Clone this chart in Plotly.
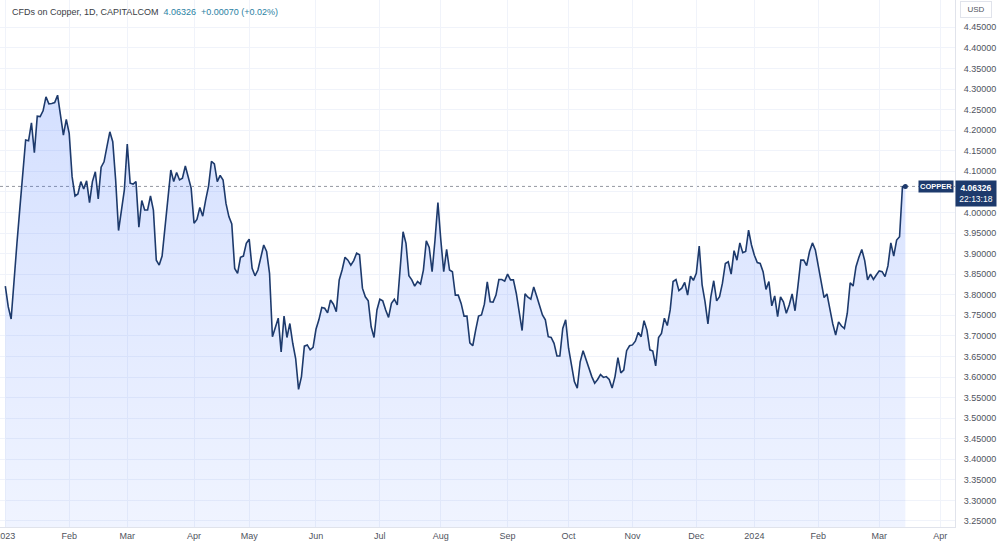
import pandas as pd
import plotly.graph_objects as go

# ---- data (daily closes) ----
values = [
    3.821, 3.771, 3.741, 3.840, 3.925, 4.010, 4.100, 4.176, 4.174, 4.218,
    4.145, 4.234, 4.233, 4.247, 4.281, 4.264, 4.265, 4.267, 4.285, 4.241,
    4.188, 4.226, 4.192, 4.087, 4.040, 4.045, 4.075, 4.057, 4.077, 4.024,
    4.075, 4.099, 4.033, 4.110, 4.123, 4.160, 4.196, 4.172, 4.079, 3.956,
    4.005, 4.055, 4.166, 4.071, 4.069, 4.075, 3.964, 4.029, 4.006, 4.006,
    4.040, 4.006,
    3.884, 3.872, 3.894, 3.959, 4.030, 4.103, 4.075, 4.097, 4.079, 4.083,
    4.113, 4.087, 4.059, 3.974, 3.983, 4.012, 3.991, 4.030, 4.064, 4.124,
    4.118, 4.075, 4.090, 4.079, 4.022, 3.990, 3.972, 3.864, 3.852, 3.891,
    3.894, 3.925,
    3.935, 3.864, 3.846, 3.860, 3.892, 3.921, 3.905, 3.852, 3.698, 3.722,
    3.743, 3.661, 3.748, 3.696, 3.730, 3.682, 3.645, 3.570, 3.601, 3.675,
    3.678, 3.666, 3.672, 3.716, 3.739, 3.769, 3.767, 3.756, 3.787, 3.777,
    3.759, 3.836, 3.860, 3.891, 3.884, 3.872, 3.883, 3.901, 3.897, 3.816,
    3.795, 3.785, 3.722, 3.696, 3.763, 3.789, 3.785, 3.763, 3.745, 3.779,
    3.789, 3.775, 3.860, 3.953, 3.925, 3.846, 3.836, 3.821, 3.832, 3.826,
    3.860, 3.931, 3.915, 3.856, 3.933, 4.024, 3.933, 3.856, 3.910, 3.860,
    3.856, 3.799, 3.799, 3.779, 3.748, 3.748, 3.683, 3.676, 3.714, 3.748,
    3.751, 3.777, 3.831, 3.783, 3.782, 3.799, 3.837, 3.837, 3.833, 3.850,
    3.836, 3.836, 3.803, 3.763, 3.713, 3.802, 3.794, 3.789, 3.819, 3.797,
    3.775, 3.751, 3.739, 3.698, 3.696, 3.682, 3.651, 3.651, 3.718, 3.739,
    3.670, 3.625, 3.589, 3.573, 3.637, 3.664, 3.641, 3.621, 3.601, 3.585,
    3.594, 3.606, 3.599, 3.601, 3.594, 3.573, 3.601, 3.647, 3.610, 3.617,
    3.664, 3.676, 3.678, 3.687, 3.708, 3.698, 3.737, 3.714, 3.666, 3.663,
    3.627, 3.696, 3.706, 3.743, 3.725, 3.763, 3.832, 3.837, 3.810, 3.816,
    3.830, 3.799, 3.845, 3.835, 3.852, 3.918, 3.824, 3.783, 3.729, 3.795,
    3.834, 3.785, 3.795, 3.828, 3.876, 3.880, 3.850, 3.907, 3.884, 3.926,
    3.902, 3.905, 3.957, 3.921, 3.896, 3.878, 3.876, 3.856, 3.813, 3.832,
    3.773, 3.797, 3.747, 3.795, 3.783, 3.755, 3.775, 3.802, 3.761,
    3.821, 3.884, 3.884, 3.871, 3.905, 3.926, 3.909, 3.872, 3.837, 3.793,
    3.802, 3.761, 3.729, 3.702, 3.734, 3.724, 3.718, 3.755, 3.829, 3.821,
    3.868, 3.891, 3.910, 3.883, 3.836, 3.850, 3.837, 3.848, 3.858, 3.856,
    3.844, 3.870, 3.926, 3.894, 3.933, 3.941, 4.06256, 4.06326,
]

holidays = ["2023-04-07", "2023-12-25", "2024-01-01"]
first_day = "2023-01-02"

tick_dates = ["2023-01-02", "2023-02-01", "2023-03-01", "2023-04-03", "2023-05-01",
              "2023-06-01", "2023-07-03", "2023-08-01", "2023-09-01", "2023-10-02",
              "2023-11-01", "2023-12-01", "2024-01-02", "2024-02-01", "2024-03-01",
              "2024-04-01"]
tick_text = ["2023", "Feb", "Mar", "Apr", "May", "Jun", "Jul", "Aug", "Sep", "Oct",
             "Nov", "Dec", "2024", "Feb", "Mar", "Apr"]

y_ticks = [round(3.25 + 0.05 * k, 2) for k in range(25)]
# the 4.05 label is covered by the last-price tag in the reference
y_text = ["" if abs(v - 4.05) < 1e-9 else f"{v:.5f}" for v in y_ticks]

last_price = 4.06326
title_main = "CFDs on Copper, 1D, CAPITALCOM"
title_quote = "4.06326  +0.00070 (+0.02%)"

# ---- build ----
hol = pd.to_datetime(holidays)
all_days = pd.bdate_range(first_day, periods=len(values) + 10)
dates = [d for d in all_days if d not in hol][:len(values)]

NAVY = "#1d3a6c"
GRID = "#f0f3fa"
AXIS_LINE = "#e0e3eb"
TEXT = "#50535e"
FONT = "Liberation Sans, Arial, sans-serif"

fig = go.Figure()
fig.add_trace(go.Scatter(
    x=dates, y=values, mode="lines",
    line=dict(color=NAVY, width=1.6),
    fill="tozeroy",
    fillgradient=dict(type="vertical",
                      colorscale=[[0, "rgba(41,98,255,0.07)"], [1, "rgba(41,98,255,0.2)"]],
                      start=3.235, stop=4.29),
    hoverinfo="skip", showlegend=False,
))
fig.add_trace(go.Scatter(
    x=[dates[-1]], y=[values[-1]], mode="markers",
    marker=dict(color=NAVY, size=5),
    hoverinfo="skip", showlegend=False,
))

fig.add_shape(type="line", xref="paper", x0=0, x1=1, yref="y", y0=last_price, y1=last_price,
              line=dict(color="#9598a1", width=1, dash="dot"), layer="below")

fig.update_layout(
    width=1000, height=546,
    margin=dict(l=0, r=45, t=0, b=19, autoexpand=False),
    paper_bgcolor="white", plot_bgcolor="white",
    font=dict(family=FONT, size=9, color=TEXT),
    xaxis=dict(
        type="date",
        range=["2022-12-29 04:00", "2024-04-08 02:24"],
        rangebreaks=[dict(bounds=["sat", "mon"]), dict(values=holidays)],
        tickmode="array", tickvals=tick_dates, ticktext=tick_text,
        ticklabeloverflow="allow", automargin=False,
        showgrid=True, gridcolor=GRID, gridwidth=1,
        showline=True, linecolor=AXIS_LINE, linewidth=1, mirror=False,
        ticks="", tickfont=dict(size=9, color=TEXT),
        zeroline=False, fixedrange=True,
    ),
    yaxis=dict(
        side="right",
        range=[3.2354, 4.5164],
        tickmode="array", tickvals=y_ticks, ticktext=y_text,
        automargin=False,
        showgrid=True, gridcolor=GRID, gridwidth=1,
        showline=True, linecolor=AXIS_LINE, linewidth=1,
        ticks="", ticklabelstandoff=6, tickfont=dict(size=9, color=TEXT),
        zeroline=False, fixedrange=True,
    ),
)

annotations = [
    dict(xref="paper", yref="paper", x=0.0105, y=1 - 12 / 527, xanchor="left", yanchor="middle",
         text=f"{title_main}  <span style='color:#2b7fa3'>{title_quote}</span>",
         showarrow=False, font=dict(size=9, color="#3a3d45")),
    dict(xref="paper", yref="paper", x=1 + 5 / 955, y=1 - 10 / 527, xanchor="left", yanchor="middle",
         text="USD", showarrow=False, font=dict(size=8, color=TEXT),
         bordercolor=AXIS_LINE, borderwidth=1, borderpad=3, bgcolor="white", width=24),
    dict(xref="paper", yref="y", x=1, y=last_price, xanchor="left", yanchor="top", yshift=6,
         text=f"<b>{last_price:.5f}</b><br>22:13:18", showarrow=False, align="center",
         font=dict(size=8.5, color="white"), bgcolor=NAVY, borderpad=2, width=36),
    dict(xref="paper", yref="y", x=1, y=last_price, xanchor="right", yanchor="middle", xshift=-1,
         text="<b>COPPER</b>", showarrow=False,
         font=dict(size=7.5, color="white"), bgcolor=NAVY, borderpad=1),
]
fig.update_layout(annotations=annotations)

fig.write_html("out.html")
